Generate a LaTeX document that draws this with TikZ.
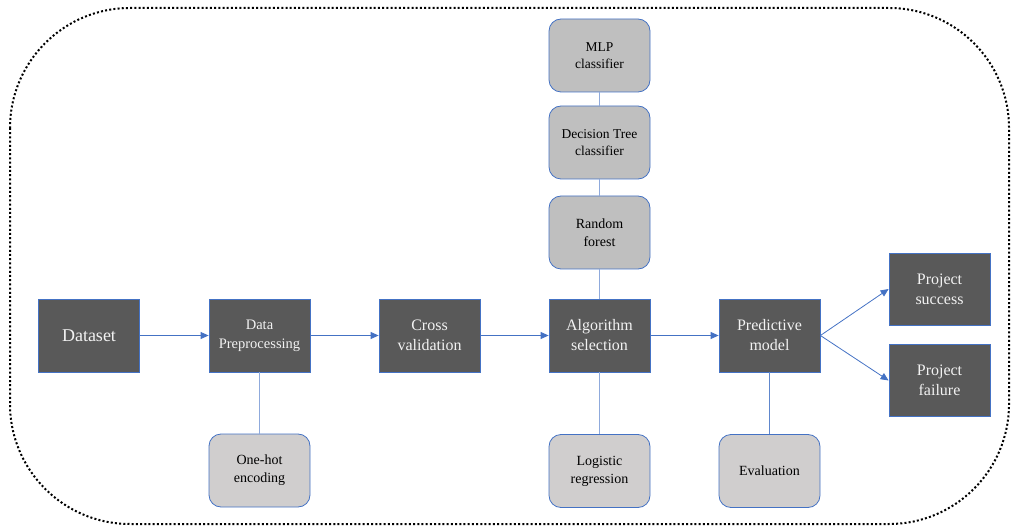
\documentclass[tikz,border=0pt]{standalone}
\usepackage{fontspec}
\setmainfont{LiberationSerif}[Extension=.ttf, UprightFont=*-Regular, BoldFont=*-Bold]
\usetikzlibrary{arrows.meta}

\definecolor{darkbox}{HTML}{595959}
\definecolor{toplight}{HTML}{BFBFBF}
\definecolor{lowlight}{HTML}{D0CECE}
\definecolor{edgeblue}{HTML}{4472C4}
\definecolor{lineblue}{HTML}{8FAADC}

\begin{document}
\begin{tikzpicture}[x=1pt,y=-1pt,
    stage/.style={draw=edgeblue, line width=0.8pt, fill=darkbox, text=white!95!black,
        minimum width=101pt, minimum height=73pt, align=center, inner sep=2pt,
        font=\fontsize{16}{20}\selectfont},
    option/.style={draw=edgeblue, line width=0.8pt, fill=toplight, rounded corners=12pt,
        minimum width=101pt, minimum height=73pt, align=center, inner sep=2pt,
        font=\fontsize{13.5}{17.5}\selectfont},
    extra/.style={option, fill=lowlight, font=\fontsize{14}{18}\selectfont},
    flow/.style={draw=edgeblue, line width=0.8pt, -{Triangle[length=8pt,width=7pt]}},
    link/.style={draw=lineblue, line width=1pt}]

    \useasboundingbox (0,0) rectangle (1011,526);
    % dotted frame round the whole pipeline
    \draw[line width=2pt, dash pattern=on 2pt off 2.2pt, rounded corners=120pt]
        (10,8) rectangle (1009,524);

    % main pipeline
    \node[stage, font=\fontsize{18}{22}\selectfont] (dataset) at (89,335.5) {Dataset};
    \node[stage, font=\fontsize{14.5}{19}\selectfont] (prep) at (259.5,335.5) {Data\\Preprocessing};
    \node[stage] (cv) at (429.5,335.5) {Cross\\validation};
    \node[stage] (algo) at (599.5,335.5) {Algorithm\\selection};
    \node[stage] (model) at (769.5,335.5) {Predictive\\model};
    \node[stage, minimum height=72pt] (success) at (939.5,289) {Project\\success};
    \node[stage, minimum height=72pt] (failure) at (939.5,380.5) {Project\\failure};

    % candidate algorithms
    \node[option] (mlp) at (599.5,55.5) {MLP\\classifier};
    \node[option] (tree) at (599.5,142.5) {Decision Tree\\classifier};
    \node[option, font=\fontsize{14}{18}\selectfont] (forest) at (599.5,232.5) {Random\\forest};
    \node[extra] (logreg) at (599.5,471) {Logistic\\regression};

    % side tasks
    \node[extra] (onehot) at (259.5,470.5) {One-hot\\encoding};
    \node[extra] (eval) at (769.5,471) {Evaluation};

    \draw[flow] (dataset) -- (prep);
    \draw[flow] (prep) -- (cv);
    \draw[flow] (cv) -- (algo);
    \draw[flow] (algo) -- (model);
    \draw[flow] (model.east) -- (success.west);
    \draw[flow] (model.east) -- (failure.west);

    \draw[link] (prep) -- (onehot);
    \draw[link] (mlp) -- (tree);
    \draw[link] (tree) -- (forest);
    \draw[link] (forest) -- (algo);
    \draw[link] (algo) -- (logreg);
    \draw[link, draw=edgeblue!85] (model) -- (eval);
\end{tikzpicture}
\end{document}
